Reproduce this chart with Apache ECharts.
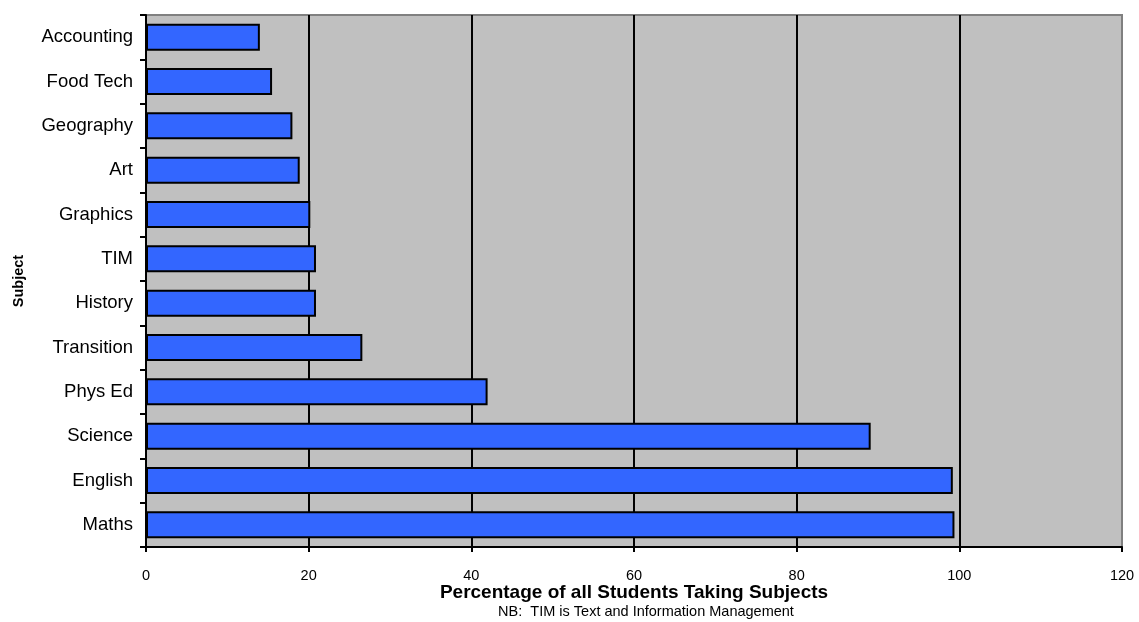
<!DOCTYPE html>
<html>
<head>
<meta charset="utf-8">
<script src="https://cdn.jsdelivr.net/npm/echarts@6/dist/echarts.min.js"></script>
<style>
  html, body { margin: 0; padding: 0; background: #fff; }
  #chart { width: 1139px; height: 622px; }
</style>
</head>
<body>
<div id="chart"></div>
<script>
// Subjects, top to bottom as drawn
const subjects = [ 'Accounting', 'Food Tech', 'Geography', 'Art', 'Graphics', 'TIM',
	'History', 'Transition', 'Phys Ed', 'Science', 'English', 'Maths' ];
const percentages = [ 14.0, 15.5, 18.0, 18.9, 20.2, 20.9, 20.9, 26.6, 42.0, 89.1, 99.2, 99.4 ];
const xTicks = [ 0, 20, 40, 60, 80, 100, 120 ];

const font = 'Liberation Sans, Arial, sans-serif';
const chart = echarts.init( document.getElementById( 'chart' ), null, { renderer: 'canvas' } );

// the last gridline sits on the plot frame, which is grey in the original
const splitColors = xTicks.map( ( v, i ) => ( i === xTicks.length - 1 ? '#808080' : '#000' ) );

chart.setOption( {
	animation: false,
	grid: {
		left: 146,
		right: 17,
		top: 15,
		bottom: 75,
		outerBoundsMode: 'none',
		containLabel: false,
		show: true,
		backgroundColor: '#C0C0C0',
		borderColor: '#808080',
		borderWidth: 2
	},
	xAxis: {
		type: 'value',
		min: xTicks[ 0 ],
		max: xTicks[ xTicks.length - 1 ],
		interval: 20,
		name: 'Percentage of all Students Taking Subjects',
		nameLocation: 'middle',
		nameGap: 36,
		nameMoveOverlap: false,
		nameTextStyle: { fontFamily: font, fontSize: 19, fontWeight: 'bold', color: '#000' },
		axisLine: { show: true, lineStyle: { color: '#000', width: 2 } },
		axisTick: { show: true, inside: false, length: 5, lineStyle: { color: '#000', width: 2 } },
		axisLabel: { fontFamily: font, fontSize: 14.5, color: '#000', margin: 21 },
		splitLine: { show: true, lineStyle: { color: splitColors, width: 2 } }
	},
	yAxis: {
		type: 'category',
		data: subjects,
		inverse: true,
		name: 'Subject',
		nameLocation: 'middle',
		nameRotate: 90,
		nameGap: 120,
		nameMoveOverlap: false,
		nameTextStyle: { fontFamily: font, fontSize: 14.5, fontWeight: 'bold', color: '#000' },
		axisLine: { show: true, lineStyle: { color: '#000', width: 2 } },
		axisTick: { show: true, inside: false, length: 6, lineStyle: { color: '#000', width: 2 } },
		axisLabel: { fontFamily: font, fontSize: 18.5, color: '#000', margin: 13, padding: [ 6, 0, 0, 0 ] },
		splitLine: { show: false }
	},
	series: [ {
		type: 'bar',
		data: percentages,
		barCategoryGap: '39%',
		itemStyle: { color: '#3366FF', borderColor: '#000', borderWidth: 2 }
	} ],
	graphic: [ {
		type: 'text',
		x: 646,
		y: 612,
		style: {
			text: 'NB:  TIM is Text and Information Management',
			font: '14.5px ' + font,
			fill: '#000',
			align: 'center',
			verticalAlign: 'middle'
		}
	} ]
} );
</script>
</body>
</html>
